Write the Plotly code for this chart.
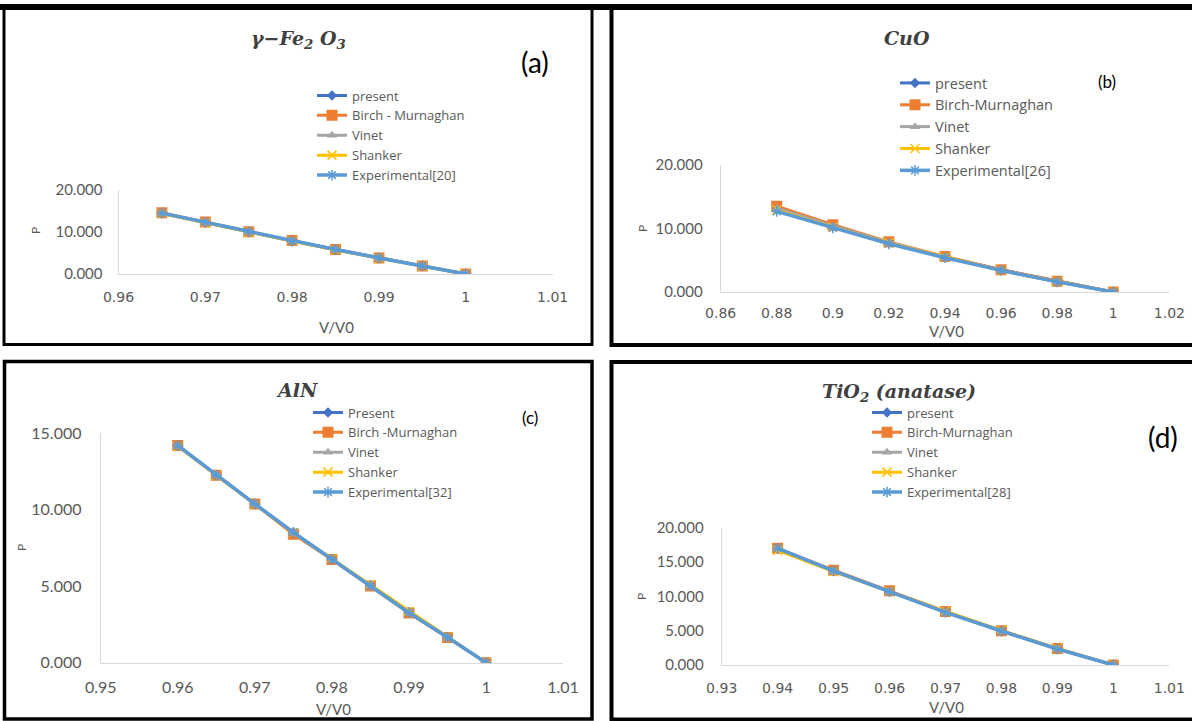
import plotly.graph_objects as go

W, H = 1192, 721

# ---------------- data ----------------
series_names_a = ["present", "Birch - Murnaghan", "Vinet", "Shanker", "Experimental[20]"]
series_names_b = ["present", "Birch-Murnaghan", "Vinet", "Shanker", "Experimental[26]"]
series_names_c = ["Present", "Birch -Murnaghan", "Vinet", "Shanker", "Experimental[32]"]
series_names_d = ["present", "Birch-Murnaghan", "Vinet", "Shanker", "Experimental[28]"]

# (a) gamma-Fe2O3
va = [0.965, 0.97, 0.975, 0.98, 0.985, 0.99, 0.995, 1.0]
pa_present = [14.4, 12.2, 10.0, 7.8, 5.8, 3.8, 1.9, 0.0]
pa_birch = [14.5, 12.3, 10.0, 7.9, 5.8, 3.8, 1.9, 0.0]
pa_vinet = [14.4, 12.2, 10.0, 7.8, 5.8, 3.8, 1.9, 0.0]
pa_shanker = [14.3, 12.1, 9.9, 7.8, 5.7, 3.7, 1.9, 0.0]
pa_exp = [14.4, 12.2, 10.0, 7.8, 5.8, 3.8, 1.9, 0.0]

# (b) CuO
vb = [0.88, 0.9, 0.92, 0.94, 0.96, 0.98, 1.0]
pb_present = [13.0, 10.3, 7.8, 5.5, 3.5, 1.7, 0.0]
pb_birch = [13.5, 10.6, 7.9, 5.6, 3.5, 1.7, 0.0]
pb_vinet = [13.2, 10.4, 7.8, 5.5, 3.4, 1.6, 0.0]
pb_shanker = [12.9, 10.2, 7.7, 5.5, 3.4, 1.6, 0.0]
pb_exp = [12.7, 10.1, 7.6, 5.4, 3.4, 1.6, 0.0]

# (c) AlN
vc = [0.96, 0.965, 0.97, 0.975, 0.98, 0.985, 0.99, 0.995, 1.0]
pc_present = [14.2, 12.27, 10.38, 8.52, 6.76, 5.04, 3.27, 1.66, 0.0]
pc_birch = [14.2, 12.25, 10.38, 8.40, 6.75, 5.02, 3.25, 1.65, 0.0]
pc_vinet = [14.2, 12.27, 10.38, 8.50, 6.76, 5.04, 3.27, 1.66, 0.0]
pc_shanker = [14.15, 12.25, 10.35, 8.50, 6.80, 5.10, 3.35, 1.70, 0.0]
pc_exp = [14.2, 12.27, 10.38, 8.52, 6.76, 5.04, 3.27, 1.66, 0.0]

# (d) TiO2 (anatase)
vd = [0.94, 0.95, 0.96, 0.97, 0.98, 0.99, 1.0]
pd_present = [17.0, 13.7, 10.7, 7.7, 4.95, 2.35, 0.0]
pd_birch = [17.0, 13.8, 10.8, 7.8, 5.0, 2.4, 0.0]
pd_vinet = [17.0, 13.7, 10.7, 7.7, 4.95, 2.35, 0.0]
pd_shanker = [16.7, 13.6, 10.7, 7.8, 5.05, 2.4, 0.0]
pd_exp = [17.0, 13.7, 10.68, 7.67, 4.95, 2.33, 0.0]

# tick labels
xt_a = [0.96, 0.97, 0.98, 0.99, 1.0, 1.01]
xl_a = ["0.96", "0.97", "0.98", "0.99", "1", "1.01"]
yt_a = [0, 10, 20]
yl_a = ["0.000", "10.000", "20.000"]
xt_b = [0.86, 0.88, 0.9, 0.92, 0.94, 0.96, 0.98, 1.0, 1.02]
xl_b = ["0.86", "0.88", "0.9", "0.92", "0.94", "0.96", "0.98", "1", "1.02"]
yt_b = [0, 10, 20]
yl_b = ["0.000", "10.000", "20.000"]
xt_c = [0.95, 0.96, 0.97, 0.98, 0.99, 1.0, 1.01]
xl_c = ["0.95", "0.96", "0.97", "0.98", "0.99", "1", "1.01"]
yt_c = [0, 5, 10, 15]
yl_c = ["0.000", "5.000", "10.000", "15.000"]
xt_d = [0.93, 0.94, 0.95, 0.96, 0.97, 0.98, 0.99, 1.0, 1.01]
xl_d = ["0.93", "0.94", "0.95", "0.96", "0.97", "0.98", "0.99", "1", "1.01"]
yt_d = [0, 5, 10, 15, 20]
yl_d = ["0.000", "5.000", "10.000", "15.000", "20.000"]

# ---------------- style ----------------
COLORS = ["#4472C4", "#ED7D31", "#A5A5A5", "#FFC000", "#5B9BD5"]
GRAY = "#595959"
FONT = "Lato"
LEG_FONT = "Open Sans"


def px(x):
    return x / W


def py(y):
    return 1 - y / H


def marker_for(i, color):
    if i == 0:
        return dict(symbol="diamond", size=8, color=color)
    if i == 1:
        return dict(symbol="square", size=11, color=color)
    if i == 2:
        return dict(symbol="triangle-up", size=9, color=color)
    if i == 3:
        return dict(symbol="x-thin", size=9, color=color, line=dict(color=color, width=1.5))
    return dict(symbol="asterisk", size=9, color=color, line=dict(color=color, width=1.5))


fig = go.Figure()

panels = [
    dict(x=va, ys=[pa_present, pa_birch, pa_vinet, pa_shanker, pa_exp], names=series_names_a,
         xa="x", ya="y", leg="legend"),
    dict(x=vb, ys=[pb_present, pb_birch, pb_vinet, pb_shanker, pb_exp], names=series_names_b,
         xa="x2", ya="y2", leg="legend2"),
    dict(x=vc, ys=[pc_present, pc_birch, pc_vinet, pc_shanker, pc_exp], names=series_names_c,
         xa="x3", ya="y3", leg="legend3"),
    dict(x=vd, ys=[pd_present, pd_birch, pd_vinet, pd_shanker, pd_exp], names=series_names_d,
         xa="x4", ya="y4", leg="legend4"),
]

for p in panels:
    for i, (yv, nm) in enumerate(zip(p["ys"], p["names"])):
        c = COLORS[i]
        fig.add_trace(go.Scatter(
            x=p["x"], y=yv, name=nm, mode="lines+markers",
            line=dict(color=c, width=3.5 if i == 4 else 3),
            marker=marker_for(i, c),
            xaxis=p["xa"], yaxis=p["ya"], legend=p["leg"],
        ))


def xaxis(domain, rng, tv, tl, anchor, fontfam, fsize, standoff):
    return dict(domain=domain, range=rng, tickvals=tv, ticktext=tl, anchor=anchor,
                showline=True, linecolor="#D9D9D9", linewidth=1, showgrid=False,
                zeroline=False, ticks="", tickfont=dict(family=fontfam, size=fsize, color=GRAY),
                ticklabelstandoff=standoff, fixedrange=True, automargin=False)


def yaxis(domain, rng, tv, tl, anchor, fsize, standoff):
    return dict(domain=domain, range=rng, tickvals=tv, ticktext=tl, anchor=anchor,
                showline=True, linecolor="#D9D9D9", linewidth=1, showgrid=False,
                zeroline=False, ticks="", tickfont=dict(family=FONT, size=fsize, color=GRAY),
                ticklabelstandoff=standoff, fixedrange=True, automargin=False)


layout = dict(
    width=W, height=H, autosize=False,
    margin=dict(l=0, r=0, t=0, b=0, pad=0, autoexpand=False),
    paper_bgcolor="white", plot_bgcolor="white",
    xaxis=xaxis([px(118.5), px(552.6)], [0.96, 1.01], xt_a, xl_a, "y", "DejaVu Sans", 14, 10),
    yaxis=yaxis([py(274), py(189.5)], [0, 20], yt_a, yl_a, "x", 15, 12),
    xaxis2=xaxis([px(720.6), px(1169.4)], [0.86, 1.02], xt_b, xl_b, "y2", "DejaVu Sans", 14, 8),
    yaxis2=yaxis([py(292), py(165)], [0, 20], yt_b, yl_b, "x2", 15, 14),
    xaxis3=xaxis([px(100.7), px(563.1)], [0.95, 1.01], xt_c, xl_c, "y3", FONT, 16, 10),
    yaxis3=yaxis([py(662.7), py(433.3)], [0, 15], yt_c, yl_c, "x3", 16, 15),
    xaxis4=xaxis([px(721.7), px(1169.3)], [0.93, 1.01], xt_d, xl_d, "y4", "DejaVu Sans", 14, 10),
    yaxis4=yaxis([py(665), py(527.7)], [0, 20], yt_d, yl_d, "x4", 15, 14),
)


def legend(x, y, fs):
    return dict(x=px(x), y=py(y), xanchor="left", yanchor="top", bgcolor="rgba(0,0,0,0)",
                font=dict(family=LEG_FONT, size=fs, color=GRAY), borderwidth=0,
                tracegroupgap=0, itemclick=False, itemdoubleclick=False)


layout["legend"] = legend(312, 80.5, 13)
layout["legend2"] = legend(895, 67, 14.5)
layout["legend3"] = legend(308, 397.5, 13)
layout["legend4"] = legend(867, 397.5, 13)
fig.update_layout(**layout)

# ---------------- texts ----------------
TITLE_FONT = dict(family="DejaVu Serif", size=19, color="#404040")
ann = []


def add_text(x, y, text, font, angle=0):
    ann.append(dict(x=px(x), y=py(y), xref="paper", yref="paper", text=text, showarrow=False,
                    xanchor="center", yanchor="middle", font=font, textangle=angle))


add_text(298, 40, "<b><i>γ−Fe<sub>2</sub> O<sub>3</sub></i></b>", TITLE_FONT)
add_text(907, 38, "<b><i>CuO</i></b>", TITLE_FONT)
add_text(297, 390, "<b><i>AlN</i></b>", TITLE_FONT)
add_text(899, 392, "<b><i>TiO<sub>2</sub> (anatase)</i></b>", TITLE_FONT)

add_text(535, 62, "(a)", dict(family=FONT, size=28, color="black"))
add_text(1107, 82, "(b)", dict(family=FONT, size=17, color="black"))
add_text(530, 417, "(c)", dict(family=FONT, size=17, color="black"))
add_text(1163, 437, "(d)", dict(family=FONT, size=28, color="black"))

AX_FONT = dict(family=FONT, size=15, color=GRAY)
P_FONT = dict(family=FONT, size=12, color=GRAY)
add_text(336, 327, "V/V0", AX_FONT)
add_text(35, 231, "P", P_FONT, -90)
add_text(946, 331, "V/V0", AX_FONT)
add_text(642, 229, "P", P_FONT, -90)
add_text(333, 709, "V/V0", AX_FONT)
add_text(21, 548, "P", P_FONT, -90)
add_text(946, 707, "V/V0", AX_FONT)
add_text(641, 597, "P", P_FONT, -90)

fig.update_layout(annotations=ann)

# ---------------- panel frames ----------------
shapes = []


def rect(x0, y0, x1, y1, w=3):
    shapes.append(dict(type="rect", xref="paper", yref="paper", x0=px(x0), x1=px(x1),
                       y0=py(y0), y1=py(y1), line=dict(color="black", width=w),
                       fillcolor="rgba(0,0,0,0)", layer="above"))


def hline(x0, x1, y, w):
    shapes.append(dict(type="line", xref="paper", yref="paper", x0=px(x0), x1=px(x1),
                       y0=py(y), y1=py(y), line=dict(color="black", width=w), layer="above"))


hline(0, W, 7, 6)
rect(4, 8, 592, 344.5, 3)
rect(611.5, 8, 1195, 345, 4)
rect(4.5, 361.5, 592, 719, 3.5)
rect(611.5, 362, 1195, 719.5, 4)
fig.update_layout(shapes=shapes)

fig.write_html(
    "out.html",
    config={"displayModeBar": False},
    post_script="document.body.style.margin='0';document.body.style.padding='0';"
                "document.body.style.overflow='hidden';",
)
